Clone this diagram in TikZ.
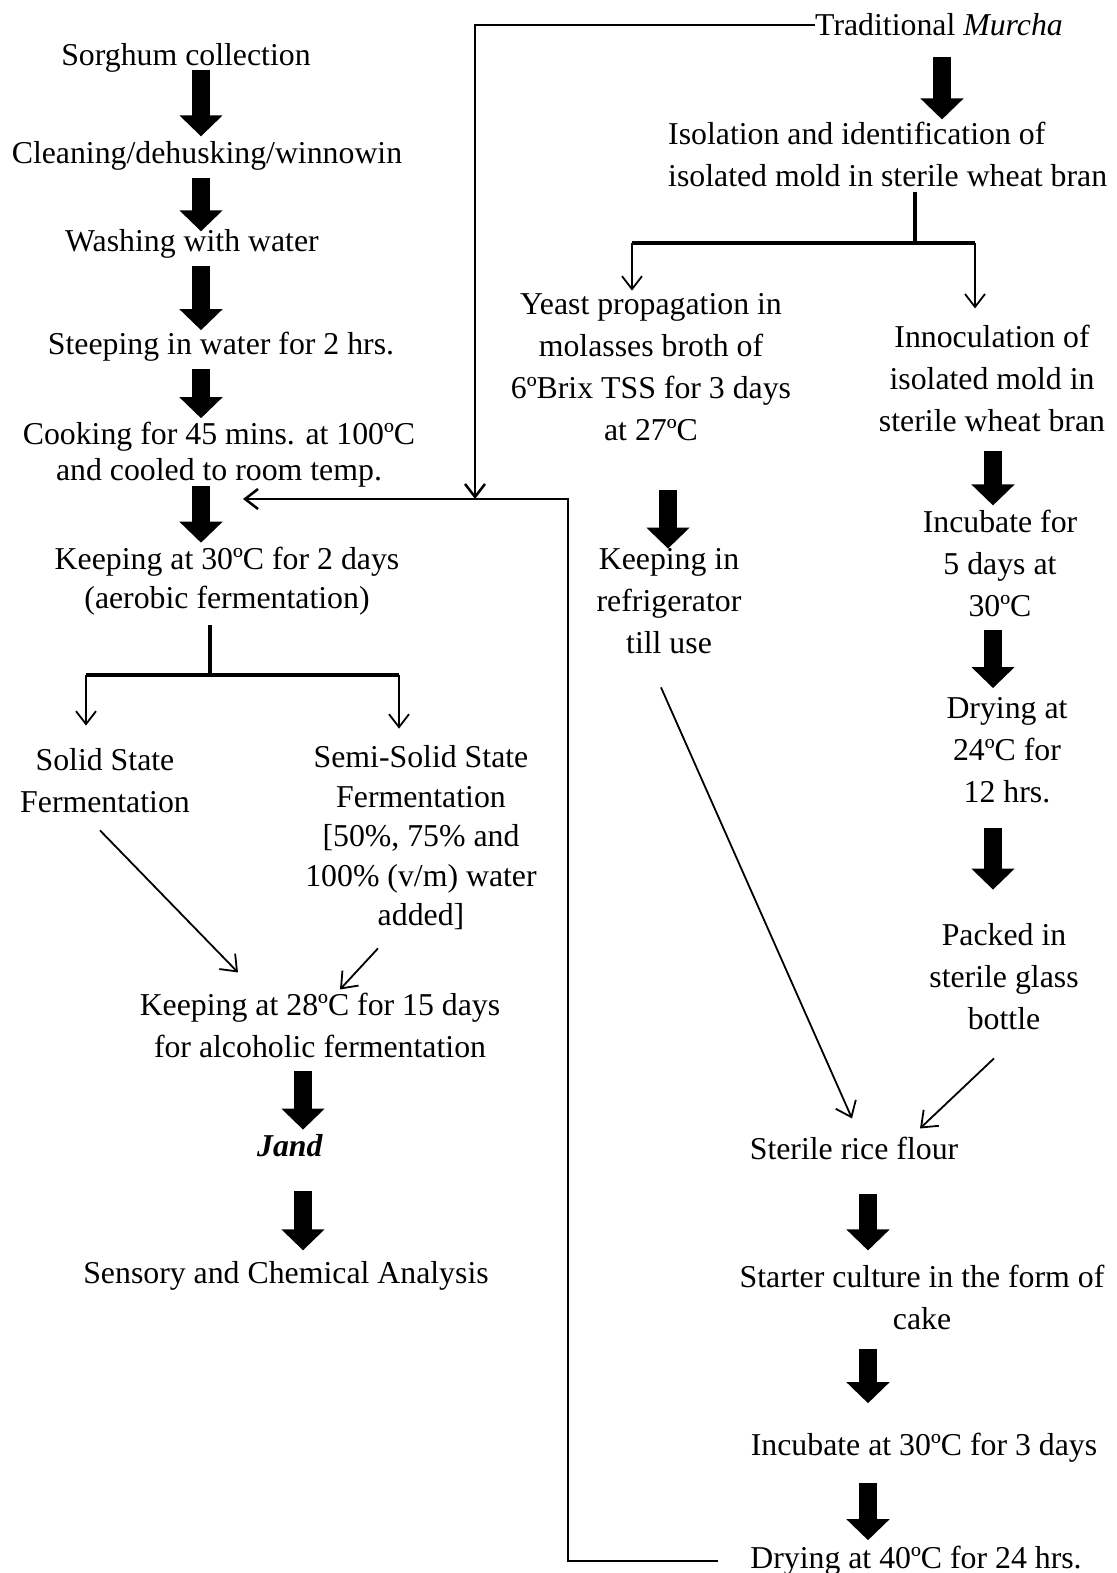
\documentclass[tikz,border=0pt]{standalone}
\usepackage{fontspec}
\setmainfont{Liberation Serif}
\usetikzlibrary{arrows.meta}

\begin{document}
\begin{tikzpicture}[x=1pt,y=-1pt,
  every node/.style={font=\fontsize{31.8pt}{42pt}\selectfont, inner sep=0pt, align=center},
  tight/.style={font=\fontsize{31.8pt}{#1}\selectfont},
  bigarr/.style={line width=18pt, -{Triangle[width=42pt,length=21pt]}},
  stem/.style={line width=3.5pt},
  drop/.style={line width=1.8pt, -{Straight Barb[width=20pt,length=13pt]}},
  fb/.style={line width=2.5pt, line join=miter},
  fbarr/.style={fb, -{Straight Barb[width=20pt,length=13pt]}},
  diag/.style={line width=1.8pt, -{Straight Barb[width=22pt,length=14pt]}}]
\useasboundingbox (0,0) rectangle (1116,1573);

% left column: jand making
\node (sorg) at (186,58) {Sorghum collection};
\node (clean) at (207,156) {Cleaning/dehusking/winnowin};
\node (wash) at (192,244) {Washing with water};
\node (steep) at (221,347) {Steeping in water for 2 hrs.};
\node[tight=36pt] (cook) at (219,455) {Cooking for 45 mins. at 100ºC\\and cooled to room temp.};
\node[tight=39pt] (keep30) at (227,581) {Keeping at 30ºC for 2 days\\(aerobic fermentation)};
\node (solid) at (105,781) {Solid State\\Fermentation};
\node[tight=39.5pt] (semi) at (421,838) {Semi-Solid State\\Fermentation\\{[50\%, 75\% and}\\100\% (v/m) water\\added]};
\node (keep28) at (320,1025) {Keeping at 28ºC for 15 days\\for alcoholic fermentation};
\node (jand) at (290,1146) {\textbf{\textit{Jand}}};
\node (sens) at (286,1276) {Sensory and Chemical Analysis};

% right side: starter culture
\node (murcha) at (939,25) {Traditional \textit{Murcha}};
\node[anchor=west, align=left] (iso) at (668,154) {Isolation and identification of\\isolated mold in sterile wheat bran};
\node (yeast) at (651,367.5) {Yeast propagation in\\molasses broth of\\6ºBrix TSS for 3 days\\at 27ºC};
\node (innoc) at (992,378) {Innoculation of\\isolated mold in\\sterile wheat bran};
\node (keepref) at (669,601.5) {Keeping in\\refrigerator\\till use};
\node (incub) at (1000,563) {Incubate for\\5 days at\\30ºC};
\node (dry24) at (1007,750) {Drying at\\24ºC for\\12 hrs.};
\node (packed) at (1004,977) {Packed in\\sterile glass\\bottle};
\node (rice) at (854,1148) {Sterile rice flour};
\node (starter) at (922,1297) {Starter culture in the form of\\cake};
\node (incub3) at (924,1448) {Incubate at 30ºC for 3 days};
\node (dry40) at (916,1561) {Drying at 40ºC for 24 hrs.};

\coordinate (colL) at (201,0);
\coordinate (colJ) at (303,0);
\coordinate (colY) at (668,0);
\coordinate (colM) at (942,0);
\coordinate (colI) at (993,0);
\coordinate (colR) at (868,0);
\coordinate (brA) at (210,675);
\coordinate (brAl) at (86,675);
\coordinate (brAr) at (399,675);
\coordinate (brB) at (915,243);
\coordinate (brBl) at (632,243);
\coordinate (brBr) at (975,243);
\coordinate (fbc) at (568,499);
\coordinate (fbin) at (243,499);
\coordinate (mj) at (475,499);

\draw[bigarr, shorten <=-3pt, shorten >=5pt] (sorg.south -| colL) -- (clean.north -| colL);
\draw[bigarr, shorten <=7pt, shorten >=-2pt] (clean.south -| colL) -- (wash.north -| colL);
\draw[bigarr, shorten <=7pt, shorten >=2pt] (wash.south -| colL) -- (steep.north -| colL);
\draw[bigarr, shorten <=7pt, shorten >=4pt] (steep.south -| colL) -- (cook.north -| colL);
\draw[bigarr, shorten <=-2pt, shorten >=4pt] (cook.south -| colL) -- (keep30.north -| colL);
\draw[bigarr, shorten <=13pt, shorten >=5pt] (keep28.south -| colJ) -- (jand.north -| colJ);
\draw[bigarr, shorten <=34pt, shorten >=11pt] (jand.south -| colJ) -- (sens.north -| colJ);

\draw[bigarr, shorten <=21pt, shorten >=2pt] (murcha.south -| colM) -- (iso.north -| colM);
\draw[bigarr, shorten <=49pt, shorten >=0pt] (yeast.south -| colY) -- (keepref.north -| colY);
\draw[bigarr, shorten <=19pt, shorten >=4pt] (innoc.south -| colI) -- (incub.north -| colI);
\draw[bigarr, shorten <=13pt, shorten >=9pt] (incub.south -| colI) -- (dry24.north -| colI);
\draw[bigarr, shorten <=25pt, shorten >=34pt] (dry24.south -| colI) -- (packed.north -| colI);
\draw[bigarr, shorten <=34pt, shorten >=14pt] (rice.south -| colR) -- (starter.north -| colR);
\draw[bigarr, shorten <=19pt, shorten >=30pt] (starter.south -| colR) -- (incub3.north -| colR);
\draw[bigarr, shorten <=20pt, shorten >=6pt] (incub3.south -| colR) -- (dry40.north -| colR);

\draw[stem, shorten <=10pt] (keep30.south -| brA) -- (brA);
\draw[stem] (brAl) -- (brAr);
\draw[drop, shorten >=23pt] (brAl) -- (brAl |- solid.north);
\draw[drop, shorten >=17pt] (brAr) -- (brAr |- semi.north);
\draw[stem, shorten <=5pt] (iso.south -| brB) -- (brB);
\draw[stem] (brBl) -- (brBr);
\draw[drop, shorten >=3pt] (brBl) -- (brBl |- yeast.north);
\draw[drop, shorten >=16pt] (brBr) -- (brBr |- innoc.north);

\draw[diag] ([xshift=-5pt,yshift=-17pt]solid.south) -- ([xshift=-82pt,yshift=20pt]keep28.north);
\draw[diag] ([xshift=-43pt,yshift=-18pt]semi.south) -- ([xshift=20pt,yshift=3pt]keep28.north);
\draw[diag] ([xshift=-8pt,yshift=-33pt]keepref.south) -- ([xshift=-2pt,yshift=18pt]rice.north);
\draw[diag] ([xshift=-10pt,yshift=-28pt]packed.south) -- ([xshift=66pt,yshift=8pt]rice.north);

\draw[fbarr, shorten <=32pt] (dry40.west) -| (fbc) -- (fbin);
\draw[fbarr] (murcha.west) -| (mj);
\end{tikzpicture}
\end{document}
